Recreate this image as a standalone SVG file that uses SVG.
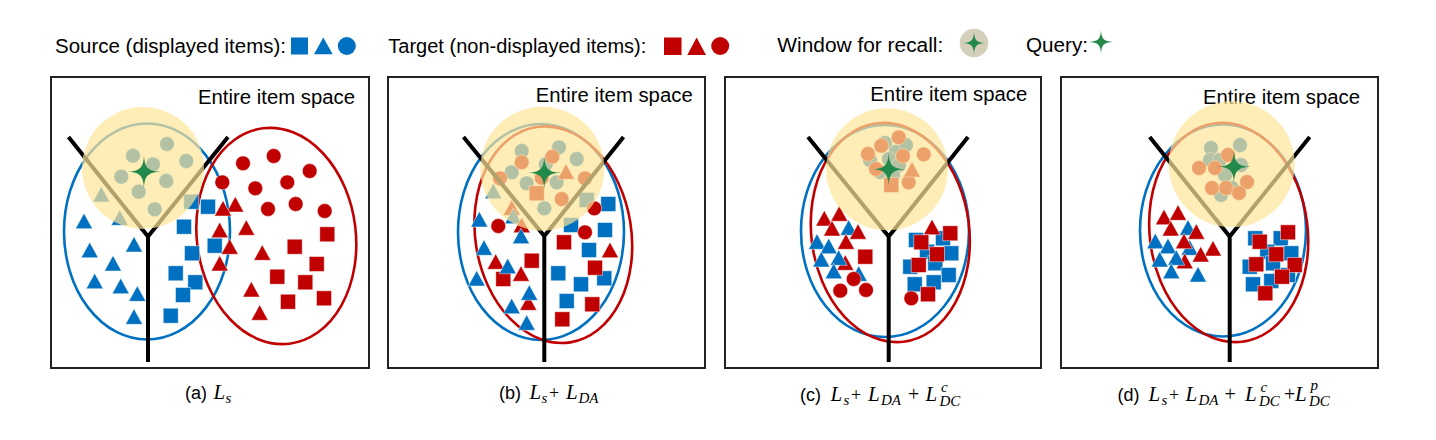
<svg xmlns="http://www.w3.org/2000/svg" xmlns:xlink="http://www.w3.org/1999/xlink" width="1436" height="440" viewBox="0 0 1436 440">
<style>
.box{fill:none;stroke:#222;stroke-width:2}
.lbl{font-family:"Liberation Sans",Arial,sans-serif;font-size:20px;fill:#000}
.be{fill:none;stroke:#0070C0;stroke-width:2.6}
.re{fill:none;stroke:#C00000;stroke-width:2.6}
.b{fill:#0070C0;stroke:#fff;stroke-width:0.8;stroke-opacity:0.6}
.r{fill:#C00000;stroke:#fff;stroke-width:0.8;stroke-opacity:0.6}
.tree{fill:none;stroke:#000;stroke-width:4;stroke-linejoin:miter}
.win{fill:#FFE699;opacity:0.7}
.q{fill:#23894B}
.cap{font-family:"Liberation Sans",Arial,sans-serif;font-size:18px;fill:#000}
.m{font-family:"Liberation Serif","Times New Roman",serif;font-style:italic;font-size:21px;fill:#000}
.ms{font-family:"Liberation Serif","Times New Roman",serif;font-style:italic;font-size:15px;fill:#000}
.pl{font-family:"Liberation Serif","Times New Roman",serif;font-size:18px;fill:#000}
.pb{font-family:"Liberation Serif","Times New Roman",serif;font-size:20px;fill:#000}
</style>
<defs>
<path id="t" d="M0,-8.5 L8.5,7 L-8.5,7Z"/>
<rect id="s" x="-7.5" y="-7.5" width="15" height="15"/>
<circle id="c" r="7.4"/>
<path id="star" d="M0,-16.5 C0.6,-4 4,-0.6 16.5,0 C4,0.6 0.6,4 0,16.5 C-0.6,4 -4,0.6 -16.5,0 C-4,-0.6 -0.6,-4 0,-16.5Z"/>
</defs>

<g id="legend">
<g id="legend-source">
<text class="lbl" x="55" y="52.5" textLength="231" lengthAdjust="spacingAndGlyphs">Source (displayed items):</text>
<rect x="291" y="37.5" width="17" height="17" fill="#0070C0"/>
<path d="M323.3,37.5 L332.7,54.3 L314,54.3Z" fill="#0070C0"/>
<circle cx="346.8" cy="46" r="9" fill="#0070C0"/>
</g>
<g id="legend-target">
<text class="lbl" x="388.3" y="52.5" textLength="258" lengthAdjust="spacingAndGlyphs">Target (non-displayed items):</text>
<rect x="664" y="37.5" width="17.5" height="17.5" fill="#C00000"/>
<path d="M696.6,37.5 L706,55 L687.3,55Z" fill="#C00000"/>
<circle cx="720.2" cy="46" r="9" fill="#C00000"/>
</g>
<g id="legend-window">
<text class="lbl" x="777.3" y="51.5" textLength="166" lengthAdjust="spacingAndGlyphs">Window for recall:</text>
<circle cx="974" cy="43" r="14.3" fill="#D3CFBA"/>
<use href="#star" class="q" transform="translate(974,43) scale(0.68)"/>
</g>
<g id="legend-query">
<text class="lbl" x="1026" y="51.5" textLength="62" lengthAdjust="spacingAndGlyphs">Query:</text>
<use href="#star" class="q" transform="translate(1101,42) scale(0.72)"/>
</g>
</g>

<!-- Panel a -->
<g id="panel-a">
<rect class="box" x="51" y="77" width="318" height="291"/>
<text class="lbl" x="198" y="104" textLength="157" lengthAdjust="spacingAndGlyphs">Entire item space</text>
<ellipse class="be" cx="147" cy="231.5" rx="83" ry="108"/>
<ellipse class="re" cx="276.3" cy="236" rx="79.5" ry="108.5" transform="rotate(-7 276.3 236)"/>
<g id="a-items">
<use href="#c" class="b" x="167" y="144"/><use href="#c" class="b" x="133" y="155.7"/><use href="#c" class="b" x="153" y="164.3"/><use href="#c" class="b" x="186.3" y="161"/><use href="#c" class="b" x="121.3" y="176.7"/><use href="#c" class="b" x="166.3" y="181"/><use href="#c" class="b" x="138.7" y="191.7"/><use href="#c" class="b" x="154.7" y="209.3"/>
<use href="#t" class="b" x="101.3" y="195"/><use href="#t" class="b" x="119.7" y="218.3"/><use href="#t" class="b" x="84" y="221.7"/><use href="#t" class="b" x="89.7" y="250.7"/><use href="#t" class="b" x="134" y="245"/><use href="#t" class="b" x="113" y="264"/><use href="#t" class="b" x="94.7" y="281.7"/><use href="#t" class="b" x="120.7" y="286.7"/><use href="#t" class="b" x="137.3" y="294.3"/><use href="#t" class="b" x="134" y="317.3"/>
<use href="#s" class="b" x="191.3" y="201.7"/><use href="#s" class="b" x="208" y="206.7"/><use href="#s" class="b" x="184" y="226.7"/><use href="#s" class="b" x="192" y="253.3"/><use href="#s" class="b" x="214.7" y="245.7"/><use href="#s" class="b" x="175.7" y="273.3"/><use href="#s" class="b" x="195.3" y="282.3"/><use href="#s" class="b" x="183" y="295"/><use href="#s" class="b" x="170.7" y="315.7"/>
<use href="#c" class="r" x="243" y="163.3"/><use href="#c" class="r" x="273.7" y="156"/><use href="#c" class="r" x="309.7" y="171"/><use href="#c" class="r" x="222.3" y="182.3"/><use href="#c" class="r" x="255.3" y="188.3"/><use href="#c" class="r" x="287.3" y="182.3"/><use href="#c" class="r" x="268" y="209"/><use href="#c" class="r" x="295.7" y="204"/><use href="#c" class="r" x="324.7" y="211"/>
<use href="#t" class="r" x="235.3" y="205"/><use href="#t" class="r" x="223" y="209"/><use href="#t" class="r" x="219.7" y="230.7"/><use href="#t" class="r" x="246.3" y="228.3"/><use href="#t" class="r" x="229.7" y="247.3"/><use href="#t" class="r" x="219.7" y="264"/><use href="#t" class="r" x="262.3" y="253.3"/><use href="#t" class="r" x="251.3" y="290"/><use href="#t" class="r" x="259.7" y="313.3"/>
<use href="#s" class="r" x="327.3" y="234.3"/><use href="#s" class="r" x="294.7" y="246.7"/><use href="#s" class="r" x="316.7" y="264"/><use href="#s" class="r" x="277.3" y="276.7"/><use href="#s" class="r" x="305.3" y="282.3"/><use href="#s" class="r" x="324" y="298.3"/><use href="#s" class="r" x="288" y="301.7"/>
</g>
<path class="tree" d="M68.5,137 L148,236.5 L228,137 M148,236.5 L148,362"/>
<circle class="win" cx="143" cy="168" r="61"/>
<use href="#star" class="q" x="144" y="171.7"/>
</g>

<!-- Panel b -->
<g id="panel-b">
<rect class="box" x="388" y="77" width="317" height="291"/>
<text class="lbl" x="535.7" y="102" textLength="157" lengthAdjust="spacingAndGlyphs">Entire item space</text>
<ellipse class="be" cx="541" cy="232" rx="83" ry="108"/>
<ellipse class="re" cx="553.3" cy="234.7" rx="78" ry="109" transform="rotate(-9 553.3 234.7)"/>
<g id="b-items">
<use href="#c" class="b" x="521.7" y="151"/><use href="#c" class="b" x="559" y="147.3"/><use href="#c" class="b" x="576.7" y="159"/><use href="#c" class="b" x="511.7" y="172.3"/><use href="#c" class="b" x="526.7" y="183.3"/><use href="#c" class="b" x="545.7" y="164.3"/><use href="#c" class="b" x="556.7" y="182.3"/><use href="#c" class="b" x="544.3" y="208.3"/>
<use href="#t" class="b" x="493.3" y="191.7"/><use href="#s" class="b" x="586.7" y="200"/><use href="#s" class="b" x="571" y="225"/>
<use href="#c" class="r" x="521.7" y="162.3"/><use href="#c" class="r" x="552.3" y="156.7"/><use href="#c" class="r" x="500" y="178.3"/><use href="#c" class="r" x="541.7" y="177.7"/><use href="#c" class="r" x="585" y="178.3"/><use href="#c" class="r" x="561.7" y="199"/>
<use href="#t" class="r" x="566" y="172.3"/><use href="#t" class="r" x="511.7" y="208.3"/><use href="#s" class="r" x="536.7" y="193.3"/>
<use href="#t" class="b" x="479.3" y="220"/><use href="#t" class="b" x="513.3" y="216.7"/>
<use href="#t" class="r" x="521.7" y="225.7"/><use href="#c" class="r" x="498.3" y="226"/>
<use href="#t" class="b" x="521" y="236.7"/><use href="#t" class="b" x="484" y="248.3"/>
<use href="#t" class="r" x="495.7" y="262.3"/><use href="#s" class="r" x="503.3" y="279"/><use href="#s" class="r" x="531.7" y="260.7"/>
<use href="#t" class="b" x="507.7" y="266.7"/><use href="#t" class="b" x="476.7" y="279"/>
<use href="#t" class="r" x="521" y="274.3"/><use href="#t" class="r" x="528.3" y="303.3"/>
<use href="#t" class="b" x="529.3" y="293.3"/><use href="#t" class="b" x="511.7" y="306.7"/><use href="#t" class="b" x="526.7" y="323.3"/>
<use href="#s" class="b" x="608.3" y="204"/><use href="#s" class="b" x="605" y="230"/><use href="#s" class="b" x="589" y="250"/><use href="#s" class="b" x="558.3" y="273.3"/><use href="#s" class="b" x="581" y="284.3"/><use href="#s" class="b" x="604.3" y="278.3"/><use href="#s" class="b" x="566.7" y="301"/>
<use href="#c" class="r" x="594.3" y="208.3"/><use href="#c" class="r" x="585" y="232.3"/>
<use href="#t" class="r" x="610" y="250.7"/>
<use href="#s" class="r" x="564" y="242.3"/><use href="#s" class="r" x="595" y="267.7"/><use href="#s" class="r" x="592.3" y="304.3"/><use href="#s" class="r" x="562.3" y="319.3"/>
</g>
<path class="tree" d="M463.5,137 L544.3,236 L623.5,137 M544.3,236 L544.3,362"/>
<circle class="win" cx="542.3" cy="168.7" r="62"/>
<use href="#star" class="q" x="544.3" y="172.7"/>
</g>

<!-- Panel c -->
<g id="panel-c">
<rect class="box" x="725" y="77" width="316" height="291"/>
<text class="lbl" x="870.3" y="101" textLength="157" lengthAdjust="spacingAndGlyphs">Entire item space</text>
<ellipse class="be" cx="885" cy="231" rx="84" ry="106"/>
<ellipse class="re" cx="890.3" cy="232.5" rx="79" ry="110" transform="rotate(-7 890.3 232.5)"/>
<g id="c-items">
<use href="#c" class="b" x="870" y="160"/><use href="#c" class="b" x="885" y="143"/><use href="#c" class="b" x="896" y="152"/><use href="#c" class="b" x="906" y="145"/><use href="#c" class="b" x="889" y="159"/><use href="#c" class="b" x="899" y="165"/><use href="#c" class="b" x="880" y="172"/><use href="#c" class="b" x="893" y="175"/>
<use href="#c" class="r" x="868" y="154"/><use href="#c" class="r" x="881.3" y="145.7"/><use href="#c" class="r" x="898.7" y="137.3"/><use href="#c" class="r" x="903" y="156"/><use href="#c" class="r" x="923.7" y="154.3"/><use href="#c" class="r" x="876" y="169"/><use href="#c" class="r" x="908.7" y="182.3"/>
<use href="#t" class="r" x="912" y="170"/><use href="#s" class="r" x="891.3" y="185"/>
<use href="#t" class="r" x="824.3" y="219"/><use href="#t" class="r" x="839.3" y="214.3"/>
<use href="#t" class="b" x="848.7" y="228.3"/>
<use href="#t" class="r" x="832" y="229"/><use href="#t" class="r" x="858" y="232.3"/>
<use href="#t" class="b" x="817" y="242.3"/><use href="#t" class="b" x="828.7" y="246.7"/>
<use href="#t" class="r" x="846" y="242.3"/>
<use href="#t" class="r" x="845.3" y="263.3"/>
<use href="#t" class="b" x="821.3" y="260"/><use href="#t" class="b" x="838.7" y="258.3"/>
<use href="#s" class="r" x="865.3" y="256.7"/>
<use href="#t" class="b" x="833.7" y="271.7"/><use href="#t" class="b" x="858.7" y="274.3"/>
<use href="#c" class="r" x="853.7" y="279"/><use href="#c" class="r" x="840.3" y="290.7"/><use href="#c" class="r" x="866" y="290"/>
<use href="#s" class="b" x="916" y="240"/><use href="#s" class="b" x="943" y="238.3"/><use href="#s" class="b" x="951.3" y="253.3"/><use href="#s" class="b" x="927" y="251.7"/><use href="#s" class="b" x="910.3" y="266.7"/><use href="#s" class="b" x="935.3" y="263.3"/><use href="#s" class="b" x="948.7" y="275"/><use href="#s" class="b" x="914.7" y="284.3"/><use href="#s" class="b" x="933.7" y="282.3"/>
<use href="#t" class="r" x="932" y="227.7"/>
<use href="#s" class="r" x="950.3" y="233.3"/><use href="#s" class="r" x="921.3" y="242.3"/><use href="#s" class="r" x="937" y="254.3"/><use href="#s" class="r" x="918.7" y="265"/><use href="#s" class="r" x="928" y="294.3"/>
<use href="#c" class="r" x="911.3" y="298.3"/>
</g>
<path class="tree" d="M808,137 L888.7,236.5 L968,137 M888.7,236.5 L888.7,362"/>
<circle class="win" cx="887" cy="169.3" r="61"/>
<use href="#star" class="q" x="888.7" y="169.3"/>
</g>

<!-- Panel d -->
<g id="panel-d">
<rect class="box" x="1061" y="77" width="317" height="291"/>
<text class="lbl" x="1203" y="104" textLength="157" lengthAdjust="spacingAndGlyphs">Entire item space</text>
<ellipse class="be" cx="1223" cy="230.5" rx="83" ry="106"/>
<ellipse class="re" cx="1228.7" cy="232.5" rx="79" ry="110" transform="rotate(-7 1228.7 232.5)"/>
<g id="d-items">
<use href="#c" class="b" x="1211" y="148"/><use href="#c" class="b" x="1240" y="145"/><use href="#c" class="b" x="1210" y="160"/><use href="#c" class="b" x="1225" y="175"/><use href="#c" class="b" x="1241" y="165"/><use href="#c" class="b" x="1221" y="195"/><use href="#c" class="b" x="1232" y="188"/><use href="#c" class="b" x="1220" y="160"/>
<use href="#c" class="r" x="1199" y="168"/><use href="#c" class="r" x="1215" y="168"/><use href="#c" class="r" x="1228" y="155"/><use href="#c" class="r" x="1247" y="182"/><use href="#c" class="r" x="1212" y="188"/><use href="#c" class="r" x="1226" y="188"/><use href="#c" class="r" x="1239" y="193"/>
<use href="#t" class="r" x="1164" y="217.7"/><use href="#t" class="r" x="1178" y="213.3"/>
<use href="#t" class="b" x="1188" y="228.3"/>
<use href="#t" class="r" x="1170.7" y="229"/><use href="#t" class="r" x="1196.3" y="232.3"/>
<use href="#t" class="b" x="1155.3" y="241.7"/><use href="#t" class="b" x="1168" y="246.7"/><use href="#t" class="b" x="1189.7" y="248.3"/>
<use href="#t" class="r" x="1184" y="241.7"/><use href="#t" class="r" x="1213" y="249"/>
<use href="#t" class="r" x="1184.7" y="261.7"/>
<use href="#t" class="b" x="1159.7" y="260"/><use href="#t" class="b" x="1176.3" y="258.3"/>
<use href="#t" class="r" x="1200.7" y="255"/>
<use href="#t" class="b" x="1171.3" y="271.7"/><use href="#t" class="b" x="1198" y="275"/>
<use href="#s" class="b" x="1255.3" y="238.3"/><use href="#s" class="b" x="1280.7" y="238.3"/><use href="#s" class="b" x="1291.3" y="253.3"/><use href="#s" class="b" x="1267.3" y="251.7"/><use href="#s" class="b" x="1249.7" y="266.7"/><use href="#s" class="b" x="1273" y="263.3"/><use href="#s" class="b" x="1253" y="284.3"/><use href="#s" class="b" x="1271.3" y="281"/><use href="#s" class="b" x="1288" y="275"/>
<use href="#s" class="r" x="1288" y="232.3"/><use href="#s" class="r" x="1259.7" y="241.7"/><use href="#s" class="r" x="1276.3" y="254.3"/><use href="#s" class="r" x="1256.3" y="264.3"/><use href="#s" class="r" x="1294.7" y="265"/><use href="#s" class="r" x="1282" y="276.7"/><use href="#s" class="r" x="1265.3" y="293.3"/>
</g>
<path class="tree" d="M1149.7,137 L1229.7,236.5 L1309.7,137 M1229.7,236.5 L1229.7,362"/>
<circle class="win" cx="1231.7" cy="164.3" r="63"/>
<use href="#star" class="q" x="1234" y="166.7"/>
</g>

<!-- Captions -->
<g id="caption-a">
<text class="cap" x="185" y="399">(a)</text>
<text class="m" x="213.5" y="399">L</text><text class="ms" x="225.5" y="403">s</text>
</g>
<g id="caption-b">
<text class="cap" x="499" y="399">(b)</text>
<text class="m" x="529.5" y="399">L</text><text class="ms" x="541.5" y="403">s</text>
<text class="pl" x="549" y="399">+</text>
<text class="m" x="566" y="399">L</text><text class="ms" x="578.5" y="403">DA</text>
</g>
<g id="caption-c">
<text class="cap" x="800" y="401">(c)</text>
<text class="m" x="830.5" y="401">L</text><text class="ms" x="843.5" y="405">s</text>
<text class="pl" x="851" y="401">+</text>
<text class="m" x="868" y="401">L</text><text class="ms" x="881" y="405">DA</text>
<text class="pb" x="908" y="401">+</text>
<text class="m" x="925.5" y="401">L</text><text class="ms" x="941" y="392">c</text><text class="ms" x="939.5" y="406">DC</text>
</g>
<g id="caption-d">
<text class="cap" x="1117.5" y="401">(d)</text>
<text class="m" x="1148.5" y="401">L</text><text class="ms" x="1161.5" y="405">s</text>
<text class="pl" x="1169" y="401">+</text>
<text class="m" x="1185.5" y="401">L</text><text class="ms" x="1198.5" y="405">DA</text>
<text class="pb" x="1224.5" y="401">+</text>
<text class="m" x="1245" y="401">L</text><text class="ms" x="1260.5" y="392">c</text><text class="ms" x="1259" y="406">DC</text>
<text class="pb" x="1284" y="401">+</text>
<text class="m" x="1295" y="401">L</text><text class="ms" x="1310.5" y="390">p</text><text class="ms" x="1309" y="406">DC</text>
</g>
</svg>
